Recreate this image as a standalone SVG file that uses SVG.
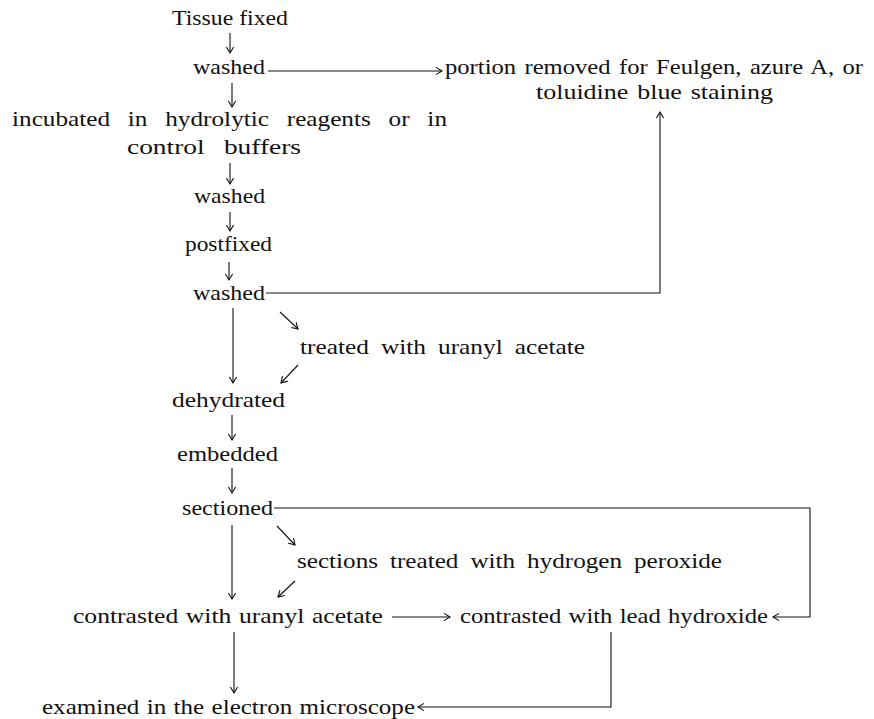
<svg xmlns="http://www.w3.org/2000/svg" width="874" height="719" viewBox="0 0 874 719">
<style>
  text { font-family: "Liberation Serif", "Times New Roman", serif; font-size: 22px; fill: #111; }
  .c { fill: none; stroke: #111; stroke-width: 1.1; }
</style>
<defs>
  <marker id="ah" viewBox="-8 -5 10 10" refX="0" refY="0" markerWidth="10" markerHeight="10" markerUnits="userSpaceOnUse" orient="auto">
    <path d="M-6,-3.6 L0,0 L-6,3.6" fill="none" stroke="#111" stroke-width="1.1"/>
  </marker>
</defs>
<rect width="874" height="719" fill="#fff"/>

<g id="n-tissue-fixed"><text x="172" y="25" textLength="116" lengthAdjust="spacingAndGlyphs">Tissue fixed</text></g>
<g id="n-washed1"><text x="193" y="74" textLength="72" lengthAdjust="spacingAndGlyphs">washed</text></g>
<g id="n-portion">
  <text x="445" y="74" textLength="418" lengthAdjust="spacingAndGlyphs" style="word-spacing:2px">portion removed for Feulgen, azure A, or</text>
  <text x="536" y="99" textLength="237" lengthAdjust="spacingAndGlyphs" style="word-spacing:2px">toluidine blue staining</text>
</g>
<g id="n-incubated">
  <text x="12" y="126" textLength="435" lengthAdjust="spacingAndGlyphs" style="word-spacing:10px">incubated in hydrolytic reagents or in</text>
  <text x="127" y="154" textLength="174" lengthAdjust="spacingAndGlyphs" style="word-spacing:10px">control buffers</text>
</g>
<g id="n-washed2"><text x="194" y="203" textLength="71" lengthAdjust="spacingAndGlyphs">washed</text></g>
<g id="n-postfixed"><text x="185" y="251" textLength="87" lengthAdjust="spacingAndGlyphs">postfixed</text></g>
<g id="n-washed3"><text x="193" y="300" textLength="72" lengthAdjust="spacingAndGlyphs">washed</text></g>
<g id="n-treated-uranyl"><text x="300" y="354" textLength="285" lengthAdjust="spacingAndGlyphs" style="word-spacing:5px">treated with uranyl acetate</text></g>
<g id="n-dehydrated"><text x="172" y="407" textLength="113" lengthAdjust="spacingAndGlyphs">dehydrated</text></g>
<g id="n-embedded"><text x="177" y="461" textLength="101" lengthAdjust="spacingAndGlyphs">embedded</text></g>
<g id="n-sectioned"><text x="182" y="515" textLength="91" lengthAdjust="spacingAndGlyphs">sectioned</text></g>
<g id="n-sections-h2o2"><text x="297" y="568" textLength="425" lengthAdjust="spacingAndGlyphs" style="word-spacing:5px">sections treated with hydrogen peroxide</text></g>
<g id="n-contrast-uranyl"><text x="73" y="623" textLength="310" lengthAdjust="spacingAndGlyphs" style="word-spacing:1px">contrasted with uranyl acetate</text></g>
<g id="n-contrast-lead"><text x="460" y="623" textLength="308" lengthAdjust="spacingAndGlyphs" style="word-spacing:1px">contrasted with lead hydroxide</text></g>
<g id="n-examined"><text x="42" y="714" textLength="373" lengthAdjust="spacingAndGlyphs" style="word-spacing:1px">examined in the electron microscope</text></g>

<g id="connectors">
  <path class="c" marker-end="url(#ah)" d="M230,33 V53"/>
  <path class="c" marker-end="url(#ah)" d="M268,71 H442"/>
  <path class="c" marker-end="url(#ah)" d="M232,83 V107"/>
  <path class="c" marker-end="url(#ah)" d="M230,163 V184"/>
  <path class="c" marker-end="url(#ah)" d="M230,212 V231"/>
  <path class="c" marker-end="url(#ah)" d="M229,262 V280"/>
  <path class="c" marker-end="url(#ah)" d="M266,293 H660 V112"/>
  <path class="c" marker-end="url(#ah)" d="M233,308 V383"/>
  <path class="c" marker-end="url(#ah)" d="M280,312 L298,329"/>
  <path class="c" marker-end="url(#ah)" d="M298,365 L281,383"/>
  <path class="c" marker-end="url(#ah)" d="M232,415 V440"/>
  <path class="c" marker-end="url(#ah)" d="M232,468 V493"/>
  <path class="c" marker-end="url(#ah)" d="M274,508 H810 V617 H773"/>
  <path class="c" marker-end="url(#ah)" d="M232,525 V599"/>
  <path class="c" marker-end="url(#ah)" d="M277,526 L295,545"/>
  <path class="c" marker-end="url(#ah)" d="M295,581 L278,597"/>
  <path class="c" marker-end="url(#ah)" d="M392,617 H450"/>
  <path class="c" marker-end="url(#ah)" d="M234,632 V693"/>
  <path class="c" marker-end="url(#ah)" d="M611,632 V707 H418"/>
</g>
</svg>
